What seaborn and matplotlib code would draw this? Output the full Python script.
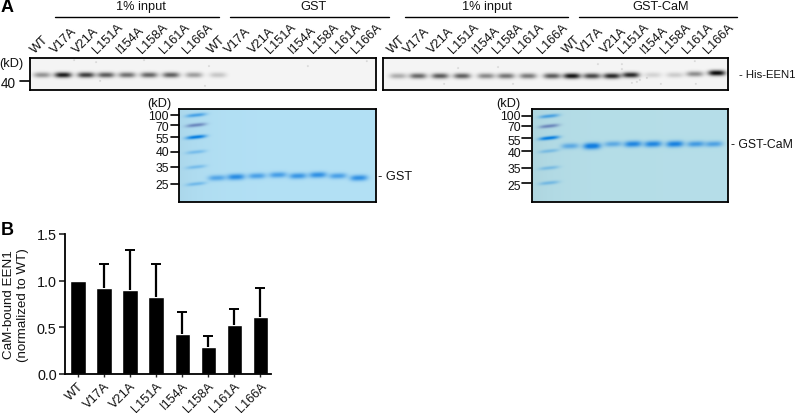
#!/usr/bin/env python3
# -*- coding: utf-8 -*-

"""Gel / blot figure with the CaM-binding bar chart below it."""

import numpy as np
import pandas as pd
import matplotlib
matplotlib.use("Agg")
import matplotlib.pyplot as plt
import seaborn as sns

W, H = 797, 414
FS = 9.2

# bar chart data
mutants = ["WT", "V17A", "V21A", "L151A", "I154A", "L158A", "L161A", "L166A"]
bound = [1.0, 0.92, 0.90, 0.83, 0.43, 0.29, 0.53, 0.61]
bound_err = [0.0, 0.26, 0.43, 0.35, 0.23, 0.12, 0.17, 0.31]
y_ticks = [0.0, 0.5, 1.0, 1.5]

# blot bands, pixel lane centres and intensity
lanes_left = [42, 63, 86, 106, 127, 149, 171, 194, 218]
bands_left = [0.38, 0.85, 0.72, 0.6, 0.52, 0.56, 0.58, 0.34, 0.18]
lanes_right = [398, 418, 440, 462, 486, 506, 528, 552, 572, 592, 612, 631, 653, 675, 695, 717]
bands_right = [0.28, 0.55, 0.6, 0.58, 0.42, 0.5, 0.48, 0.6, 0.88, 0.68, 0.8, 0.8, 0.13, 0.16, 0.4, 0.92]
band_y_right = [77, 77, 77, 77, 77, 77, 77, 77, 77, 77, 77, 76, 76, 76, 75, 74]
specks = [(74, 61), (96, 63), (144, 61), (209, 67), (205, 87), (308, 67), (367, 62),
          (100, 82), (458, 69), (498, 68), (598, 65), (622, 65), (622, 70), (632, 84), (637, 83),
          (640, 81), (696, 85), (695, 62), (661, 85), (444, 85), (513, 85), (647, 79)]

# coomassie gels
ladder_y_gst = [116, 126, 138, 153, 168, 185]
ladder_y_cam = [117, 127, 139, 152, 169, 184]
ladder_amp = [0.6, 0.75, 1.0, 0.32, 0.32, 0.35]
gst_x = [217, 236, 257, 278, 298, 318, 338, 359]
gst_y = [179, 178, 177, 176, 177, 176, 177, 179]
gst_amp = [0.55, 0.8, 0.6, 0.62, 0.7, 0.75, 0.6, 0.75]
cam_x = [570, 592, 613, 633, 653, 675, 696, 714]
cam_y = [147, 147, 145, 145, 145, 145, 145, 145]
cam_amp = [0.5, 1.0, 0.5, 0.85, 0.85, 0.9, 0.65, 0.58]

# texts
group_names = ["1% input", "GST", "1% input", "GST-CaM"]
group_text_x = [141, 314, 487, 661]
group_lines = [(55, 219), (230, 389), (405, 568), (579, 737)]
lane_text_x = [35, 55, 77, 97, 121, 142, 164, 187, 212, 229, 253, 270, 293, 313, 335, 356,
               392, 408, 432, 453, 477, 497, 518, 542, 567, 582, 605, 623, 645, 665, 687, 708]
kd_labels = ["100", "70", "55", "40", "35", "25"]
kd_text_gst = [117, 128, 140, 153, 169, 186]
kd_text_cam = [117, 128, 142, 154, 170, 187]

sns.set_theme(style="ticks")
plt.rcParams["font.family"] = ["Liberation Sans", "DejaVu Sans"]

fig = plt.figure(figsize=(W / 100, H / 100), dpi=100)


def px_axes(x0, y0, x1, y1):
    # axes placed by pixel box, y counted from the top of the figure
    return fig.add_axes([x0 / W, 1 - y1 / H, (x1 - x0) / W, (y1 - y0) / H])


def band(xx, yy, cx, cy, half_w, half_h, tilt=0.0):
    dy = yy - cy + tilt * (xx - cx)
    return np.exp(-np.abs((xx - cx) / half_w) ** 3) * np.exp(-(dy / half_h) ** 2)


def show_panel(box, img):
    ax = px_axes(*box)
    ax.imshow(img, extent=[box[0], box[2], box[3], box[1]], aspect="auto",
              interpolation="bilinear", vmin=0, vmax=1, cmap="gray" if img.ndim == 2 else None)
    ax.set_xticks([])
    ax.set_yticks([])
    for s in ax.spines.values():
        s.set_linewidth(1.3)
        s.set_color("black")
    return ax


def blot(box, xs, ys, amps):
    x = np.linspace(box[0], box[2], (box[2] - box[0]) * 3)
    y = np.linspace(box[1], box[3], (box[3] - box[1]) * 3)
    xx, yy = np.meshgrid(x, y)
    dark = np.zeros_like(xx)
    for cx, cy, a in zip(xs, ys, amps):
        dark += a * band(xx, yy, cx, cy, 8.5, 2.8)
    for cx, cy in specks:
        dark += 0.25 * np.exp(-((xx - cx) ** 2 + (yy - cy) ** 2) / 0.5)
    return np.clip(0.96 - dark, 0, 1)


def gel(box, ladder_x, ladder_y, xs, ys, amps, bg):
    x = np.linspace(box[0], box[2], (box[2] - box[0]) * 3)
    y = np.linspace(box[1], box[3], (box[3] - box[1]) * 3)
    xx, yy = np.meshgrid(x, y)
    img = np.ones(xx.shape + (3,)) * np.array(bg)
    # left side of the gel is a bit darker than the middle
    shade = 1 - 0.04 * np.exp(-(xx - box[0]) / 25)
    img = img * shade[..., None]
    blue = np.array([0.08, 0.50, 0.88])
    ladder_blue = np.array([0.0, 0.48, 0.88])
    purple = np.array([0.33, 0.42, 0.68])
    for i, (ly, a) in enumerate(zip(ladder_y, ladder_amp)):
        col = purple if i == 1 else ladder_blue
        m = a * band(xx, yy, ladder_x, ly, 10, 1.8, tilt=0.1)
        img = img * (1 - m[..., None]) + col * m[..., None]
    for cx, cy, a in zip(xs, ys, amps):
        m = np.clip(a * 1.1 * band(xx, yy, cx, cy, 8.8, 2.4 + a * 0.8, tilt=0.03), 0, 1)
        img = img * (1 - m[..., None]) + blue * m[..., None]
    return np.clip(img, 0, 1)


# top panels
box_l = (30, 59, 376, 91)
box_r = (383, 59, 728, 91)
show_panel(box_l, blot(box_l, lanes_left, [76] * len(lanes_left), bands_left))
show_panel(box_r, blot(box_r, lanes_right, band_y_right, bands_right))

box_g = (179, 110, 376, 203)
box_c = (532, 110, 728, 203)
show_panel(box_g, gel(box_g, 196, ladder_y_gst, gst_x, gst_y, gst_amp, (0.70, 0.88, 0.96)))
show_panel(box_c, gel(box_c, 549, ladder_y_cam, cam_x, cam_y, cam_amp, (0.71, 0.87, 0.91)))

# bar chart
ax = px_axes(65, 235, 271, 375)
df = pd.DataFrame({"mutant": mutants, "bound": bound})
sns.barplot(data=df, x="mutant", y="bound", color="black", saturation=1, width=0.58, ax=ax)
has_err = [i for i, e in enumerate(bound_err) if e > 0]
# upper bars only, so the lower cap is hidden
_, err_caps, _ = ax.errorbar(has_err, [bound[i] for i in has_err],
                             yerr=[[0] * len(has_err), [bound_err[i] for i in has_err]],
                             fmt="none", ecolor="black", elinewidth=1.6, capsize=3.6, capthick=1.4)
err_caps[0].set_visible(False)
ax.set_xlim(-0.5, 7.42)
ax.set_ylim(0, 1.5)
ax.set_yticks(y_ticks)
ax.set_yticklabels([f"{v:.1f}" for v in y_ticks], fontsize=10.4, color="#111111")
ax.set_xlabel("")
ax.set_ylabel("")
ax.tick_params(axis="y", length=4, width=1.2, pad=2)
ax.tick_params(axis="x", length=2, width=1.0, pad=2)
ax.set_xticks(range(len(mutants)))
ax.set_xticklabels(mutants, rotation=45, ha="right", rotation_mode="anchor", fontsize=FS, color="#111111")
ax.patch.set_alpha(0)
for s in ["top", "right"]:
    ax.spines[s].set_visible(False)
for s in ["left", "bottom"]:
    ax.spines[s].set_linewidth(1.3)
    ax.spines[s].set_color("black")

# overlay in pixel coordinates for labels and brackets
ov = fig.add_axes([0, 0, 1, 1])
ov.set_xlim(0, W)
ov.set_ylim(H, 0)
ov.axis("off")
ov.patch.set_alpha(0)

txt = dict(fontsize=FS, color="#111111")
ov.text(1, 8, "A", fontsize=13, fontweight="bold", va="center", color="black")
ov.text(1, 231, "B", fontsize=13, fontweight="bold", va="center", color="black")

for name, tx, (a, b) in zip(group_names, group_text_x, group_lines):
    ov.text(tx, 7, name, ha="center", va="center", **txt)
    ov.plot([a, b], [17.5, 17.5], color="black", lw=1.0)

for tx, name in zip(lane_text_x, (mutants + mutants) * 2):
    ov.text(tx, 54, name, rotation=45, rotation_mode="anchor", ha="left", va="baseline", **txt)

ov.text(24, 64, "(kD)", ha="right", va="center", **txt)
ov.text(16, 84, "40", ha="right", va="center", fontsize=9.8, color="#111111")
ov.plot([20, 29], [82, 82], color="black", lw=1.2)
ov.text(739, 75, "- His-EEN1", ha="left", va="center", fontsize=8.2, color="#111111")
ov.text(378, 177, "- GST", ha="left", va="center", **txt)
ov.text(731, 145, "- GST-CaM", ha="left", va="center", fontsize=8.8, color="#111111")

ov.text(159, 104, "(kD)", ha="center", va="center", **txt)
ov.text(508, 104, "(kD)", ha="center", va="center", **txt)
for label, t_g, t_c, l_g, l_c in zip(kd_labels, kd_text_gst, kd_text_cam, ladder_y_gst, ladder_y_cam):
    ov.text(169, t_g, label, ha="right", va="center", fontsize=8.8, color="#111111")
    ov.text(521, t_c, label, ha="right", va="center", fontsize=8.8, color="#111111")
    ov.plot([171, 179], [l_g, l_g], color="black", lw=1.2)
    ov.plot([522, 531], [l_c, l_c], color="black", lw=1.2)

ov.text(16, 305, "CaM-bound EEN1\n(normalized to WT)", rotation=90, ha="center", va="center",
        multialignment="center", linespacing=1.15, fontsize=9.6, color="#111111")

fig.savefig("out.png", dpi=100)
